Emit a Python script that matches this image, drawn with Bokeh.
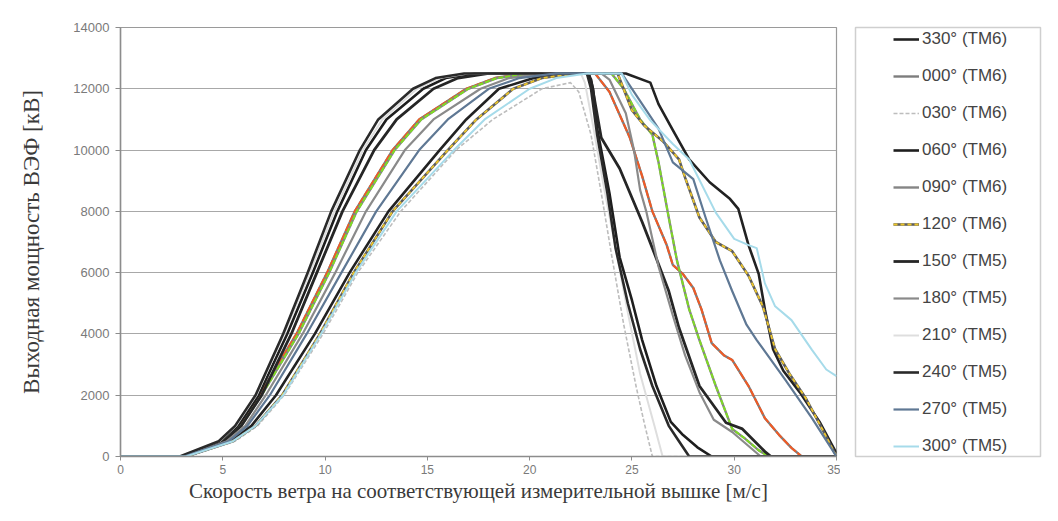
from bokeh.plotting import figure
from bokeh.models import Range1d, FixedTicker, Legend, LegendItem
from bokeh.layouts import row
from bokeh.embed import file_html
from bokeh.resources import INLINE

# ---------------- data ----------------
labels = ["330° (TM6)", "000° (TM6)", "030° (TM6)", "060° (TM6)", "090° (TM6)", "120° (TM6)",
          "150° (TM5)", "180° (TM5)", "210° (TM5)", "240° (TM5)", "270° (TM5)", "300° (TM5)"]

wind_330 = [0, 3.2, 5.4, 6.4, 7.6, 9.5, 11.2, 13.1, 15.6, 16.9, 18.5, 20.2, 21.8,
            24.7, 25.9, 26.3, 27.0, 27.8, 28.8, 29.8, 30.2, 30.7, 31.2, 31.5, 31.9, 32.4, 33.2, 34.2, 35.0]
power_330 = [0, 0, 500, 1000, 2000, 4000, 6000, 8000, 10000, 11000, 12000, 12350, 12500,
             12500, 12200, 11500, 10650, 9700, 8950, 8400, 8080, 6900, 5950, 4800, 3500, 2800, 2100, 1100, 100]

wind_000 = [0, 3.0, 5.0, 5.85, 6.8, 8.6, 10.1, 11.45, 13.3, 14.6, 16.9, 18.3, 19.8,
            23.2, 23.9, 24.9, 25.5, 26.0, 26.7, 27.0, 27.5, 28.0, 28.4, 28.9, 29.5, 29.9, 30.7, 31.5, 32.2, 32.8, 33.3, 35.0]
power_000 = [0, 0, 500, 1000, 2000, 4000, 6000, 8000, 10000, 11000, 12000, 12350, 12500,
             12500, 11900, 10400, 9150, 8000, 6900, 6250, 5950, 5500, 4800, 3700, 3300, 3150, 2300, 1250, 700, 280, 0, 0]

wind_030 = [0, 3.3, 5.6, 6.7, 8.0, 9.9, 11.6, 13.7, 16.4, 18.2, 20.6, 22.0,
            22.4, 23.0, 23.5, 24.0, 24.6, 25.2, 25.6, 26.0, 35.0]
power_030 = [0, 0, 500, 1000, 2000, 4000, 6000, 8000, 10000, 11000, 12000, 12200,
             11900, 10500, 8600, 6600, 4300, 2300, 1100, 0, 0]

wind_060 = [0, 3.0, 4.95, 5.75, 6.75, 8.15, 9.4, 10.6, 12.0, 13.0, 14.8, 15.9, 17.3,
            22.9, 23.1, 23.3, 23.9, 24.4, 25.0, 25.5, 26.2, 26.9, 27.5, 28.2, 28.9, 35.0]
power_060 = [0, 0, 500, 1000, 2000, 4000, 6000, 8000, 10000, 11000, 12000, 12350, 12500,
             12500, 12000, 10700, 8600, 6500, 5100, 3800, 2300, 1130, 700, 300, 0, 0]

wind_090 = [0, 3.0, 5.05, 5.9, 6.9, 8.7, 10.2, 11.55, 13.4, 14.7, 17.0, 18.4, 20.0,
            24.0, 24.6, 25.4, 26.0, 26.3, 26.8, 27.2, 27.8, 28.3, 29.1, 29.9, 30.5, 31.2, 31.7, 35.0]
power_090 = [0, 0, 500, 1000, 2000, 4000, 6000, 8000, 10000, 11000, 12000, 12350, 12500,
             12500, 12000, 11000, 10500, 9600, 7800, 6400, 4800, 3800, 2300, 900, 600, 200, 0, 0]

wind_120 = [0, 3.2, 5.5, 6.6, 7.9, 9.75, 11.4, 13.3, 16.0, 17.4, 19.2, 20.6, 22.3,
            24.3, 25.0, 25.6, 26.5, 27.3, 27.6, 28.3, 29.1, 29.9, 30.7, 31.4, 32.0, 32.7, 33.5, 34.3, 35.0]
power_120 = [0, 0, 500, 1000, 2000, 4000, 6000, 8000, 10000, 11000, 12000, 12350, 12500,
             12500, 11300, 10800, 10300, 9700, 9100, 7800, 7000, 6700, 5900, 4900, 3500, 2700, 1900, 900, 0]

wind_150 = [0, 3.0, 5.05, 5.9, 6.9, 8.35, 9.6, 10.85, 12.4, 13.5, 15.3, 16.5, 18.0,
            22.8, 23.0, 23.5, 24.4, 25.5, 26.0, 26.8, 27.3, 28.3, 29.6, 30.4, 31.5, 31.8, 35.0]
power_150 = [0, 0, 500, 1000, 2000, 4000, 6000, 8000, 10000, 11000, 12000, 12350, 12500,
             12500, 12300, 10400, 9400, 7650, 6800, 5400, 4200, 2300, 1100, 900, 160, 0, 0]

wind_180 = [0, 3.1, 5.2, 6.1, 7.1, 8.9, 10.5, 12.0, 13.9, 15.3, 17.6, 19.0, 20.8,
            23.5, 23.9, 24.7, 25.1, 25.4, 25.7, 26.3, 27.0, 27.6, 28.3, 29.0, 29.9, 30.6, 31.3, 35.0]
power_180 = [0, 0, 500, 1000, 2000, 4000, 6000, 8000, 10000, 11000, 12000, 12350, 12500,
             12500, 12300, 11200, 10000, 8700, 8000, 6200, 4600, 3300, 2100, 1200, 800, 400, 0, 0]

wind_210 = [0, 2.9, 4.85, 5.65, 6.65, 8.0, 9.25, 10.45, 11.85, 12.8, 14.5, 15.6, 17.0,
            22.5, 22.7, 23.1, 23.6, 24.2, 24.8, 25.4, 26.1, 26.5, 35.0]
power_210 = [0, 0, 500, 1000, 2000, 4000, 6000, 8000, 10000, 11000, 12000, 12350, 12500,
             12500, 12200, 10800, 8900, 6800, 4700, 2700, 1000, 0, 0]

wind_240 = [0, 2.9, 4.8, 5.6, 6.6, 7.95, 9.15, 10.3, 11.7, 12.6, 14.3, 15.4, 16.8,
            22.8, 23.0, 23.3, 23.8, 24.2, 24.8, 25.4, 26.0, 26.8, 27.3, 27.8, 35.0]
power_240 = [0, 0, 500, 1000, 2000, 4000, 6000, 8000, 10000, 11000, 12000, 12350, 12500,
             12500, 12000, 10500, 8600, 6800, 5000, 3500, 2300, 1000, 500, 0, 0]

wind_270 = [0, 3.1, 5.3, 6.2, 7.3, 9.1, 10.8, 12.5, 14.6, 16.0, 18.0, 19.5, 21.3,
            24.5, 25.2, 26.3, 27.0, 28.0, 28.6, 29.3, 29.9, 30.6, 31.1, 32.5, 33.8, 35.0]
power_270 = [0, 0, 500, 1000, 2000, 4000, 6000, 8000, 10000, 11000, 12000, 12350, 12500,
             12500, 11800, 10700, 9600, 9050, 7800, 6400, 5400, 4300, 3800, 2500, 1250, 0]

wind_300 = [0, 3.2, 5.5, 6.6, 7.95, 9.8, 11.5, 13.5, 16.3, 17.8, 20.0, 21.3, 22.8,
            24.5, 25.0, 25.9, 27.0, 27.8, 29.1, 30.0, 30.7, 31.1, 31.5, 32.0, 32.8, 33.8, 34.5, 35.0]
power_300 = [0, 0, 500, 1000, 2000, 4000, 6000, 8000, 10000, 11000, 12000, 12350, 12500,
             12500, 11800, 10970, 10200, 9690, 7960, 7100, 6900, 6800, 5650, 4900, 4450, 3480, 2840, 2620]

x_ticks = [0, 5, 10, 15, 20, 25, 30, 35]
y_ticks = [0, 2000, 4000, 6000, 8000, 10000, 12000, 14000]

NAN = float("nan")

# ---------------- main figure ----------------
H = 505
p = figure(width=840, height=H, output_backend="svg", toolbar_location=None,
           x_range=Range1d(0, 35), y_range=Range1d(0, 14000),
           min_border_left=120, min_border_right=4, min_border_top=27, min_border_bottom=47)
p.background_fill_color = "white"
p.border_fill_color = "white"
p.outline_line_color = "#9a9a9a"
p.outline_line_width = 1.2

p.xgrid.grid_line_color = None
p.ygrid.grid_line_color = "#a8a8a8"
p.ygrid.grid_line_width = 1
p.xaxis.ticker = FixedTicker(ticks=x_ticks)
p.yaxis.ticker = FixedTicker(ticks=y_ticks)
for ax in (p.xaxis, p.yaxis):
    ax.axis_line_color = "#8c8c8c"
    ax.axis_line_width = 1.5
    ax.major_tick_line_color = "#8c8c8c"
    ax.minor_tick_line_color = None
    ax.major_tick_in = 0
    ax.major_label_text_font = "Liberation Sans"
    ax.major_label_text_color = "#7a7a7a"
    ax.axis_label_text_font = "Liberation Serif"
    ax.axis_label_text_font_style = "normal"
    ax.axis_label_text_color = "#3a3a3a"
p.xaxis.major_tick_out = 4
p.yaxis.major_tick_out = 5
p.xaxis.major_label_text_font_size = "12px"
p.yaxis.major_label_text_font_size = "13px"
p.xaxis.axis_label_text_font_size = "21px"
p.yaxis.axis_label_text_font_size = "23px"
p.xaxis.axis_label = "Скорость ветра на соответствующей измерительной вышке [м/с]"
p.yaxis.axis_label = "Выходная мощность ВЭФ [кВ]"
p.xaxis.major_label_standoff = 4
p.xaxis.axis_label_standoff = 2
p.yaxis.major_label_standoff = 6
p.yaxis.axis_label_standoff = 26

series = [
    (wind_330, power_330, "#222222", 2.6, None),
    (wind_000, power_000, "#7d7d7d", 2.4, None),
    (wind_030, power_030, "#bdbdbd", 1.6, "4 2"),
    (wind_060, power_060, "#1e1e1e", 2.6, None),
    (wind_090, power_090, "#858585", 2.4, None),
    (wind_120, power_120, "#5e5e5e", 2.6, None),
    (wind_150, power_150, "#262626", 2.8, None),
    (wind_180, power_180, "#8a8a8a", 2.2, None),
    (wind_210, power_210, "#dedede", 2.0, None),
    (wind_240, power_240, "#2a2a2a", 2.6, None),
    (wind_270, power_270, "#5f7894", 2.2, None),
    (wind_300, power_300, "#a6dbea", 2.0, None),
]
overlays = {1: ("#f25a24", "8 2", 2.0), 4: ("#7fdc22", "5 2", 2.0), 5: ("#ecc52a", "4 3", 1.8)}

for i, (xs, ys, col, w, dash) in enumerate(series):
    kw = dict(line_color=col, line_width=w, line_join="round")
    if dash:
        kw["line_dash"] = dash
    p.line(xs, ys, **kw)
    if i in overlays:
        oc, od, ow = overlays[i]
        p.line(xs, ys, line_color=oc, line_width=ow, line_dash=od)

# ---------------- legend panel (its frame is the legend box) ----------------
pl = figure(width=202, height=H, output_backend="svg", toolbar_location=None,
            x_range=Range1d(0, 1), y_range=Range1d(0, 1),
            x_axis_location=None, y_axis_location=None,
            min_border_left=15, min_border_right=2, min_border_top=15, min_border_bottom=30)
pl.grid.visible = False
pl.outline_line_color = "#cfcfcf"
pl.outline_line_width = 1.5
pl.border_fill_color = "white"
pl.background_fill_color = "white"

items = []
for i, (xs, ys, col, w, dash) in enumerate(series):
    kw = dict(line_color=col, line_width=w)
    if dash:
        kw["line_dash"] = dash
    rs = [pl.line([NAN], [NAN], **kw)]
    if i == 5:
        oc, od, ow = overlays[i]
        rs.append(pl.line([NAN], [NAN], line_color=oc, line_width=ow, line_dash=od))
    items.append(LegendItem(label=labels[i], renderers=rs))

legend = Legend(items=items, location=(38, 0), orientation="vertical",
                label_text_font="Liberation Sans", label_text_font_size="17px",
                label_text_color="#444444", glyph_width=26, glyph_height=20,
                label_height=20, label_standoff=3, spacing=17, padding=0, margin=0,
                border_line_color=None, background_fill_alpha=0)
pl.add_layout(legend, "center")

layout = row(p, pl)
open("out.html", "w").write(file_html(layout, INLINE))
